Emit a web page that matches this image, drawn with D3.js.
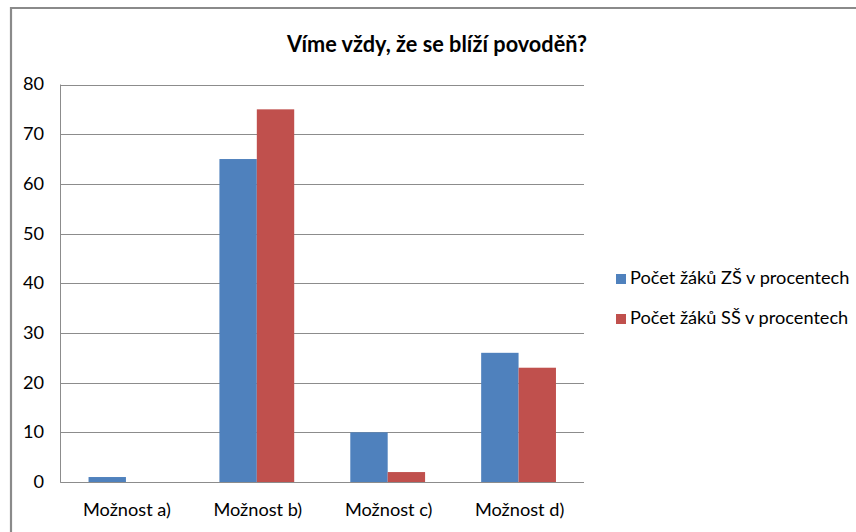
<!DOCTYPE html>
<html><head><meta charset="utf-8">
<script src="https://cdn.jsdelivr.net/npm/d3@7"></script>
<style>html,body{margin:0;padding:0;background:#fff;overflow:hidden}</style>
</head><body>
<svg id="chart" width="856" height="532"></svg>
<script>
const title = "Víme vždy, že se blíží povoděň?";
const categories = ["Možnost a)", "Možnost b)", "Možnost c)", "Možnost d)"];
const seriesNames = ["Počet žáků ZŠ v procentech", "Počet žáků SŠ v procentech"];
const seriesZS = [1, 65, 10, 26];
const seriesSS = [0, 75, 2, 23];
const yTicks = [0, 10, 20, 30, 40, 50, 60, 70, 80];
const colors = ["#4F81BD", "#C0504D"];

const series = [seriesZS, seriesSS];
const svg = d3.select("#chart");
const font = "Lato, 'Open Sans', sans-serif";

// frame
svg.append("path").attr("d", "M11,540 V8 H860").attr("fill", "none")
  .attr("stroke", "#8a8a8a").attr("stroke-width", 2.2);

const plot = {left: 60.5, right: 584, top: 84.5, bottom: 482};
const x = d3.scaleBand().domain(categories).range([plot.left, plot.right]).padding(0);
const gap = x.bandwidth() * 1.5 / 3.5;
const x1 = d3.scaleBand().domain(d3.range(series.length)).range([gap / 2, x.bandwidth() - gap / 2]).padding(0);
const y = d3.scaleLinear().domain([0, 80]).range([plot.bottom, plot.top]);

// gridlines
svg.append("g").selectAll("line").data(yTicks).join("line")
  .attr("x1", plot.left).attr("x2", plot.right)
  .attr("y1", d => Math.round(y(d)) + 0.5).attr("y2", d => Math.round(y(d)) + 0.5)
  .attr("stroke", "#8c8c8c").attr("stroke-width", 1);

// bars
series.forEach((vals, si) => {
  svg.append("g").selectAll("rect").data(vals).join("rect")
    .attr("x", (d, i) => x(categories[i]) + x1(si))
    .attr("width", x1.bandwidth())
    .attr("y", d => y(d))
    .attr("height", d => y(0) - y(d))
    .attr("fill", colors[si]);
});

// vertical axis line
svg.append("line").attr("x1", plot.left).attr("x2", plot.left)
  .attr("y1", y(80)).attr("y2", y(0) + 0.5).attr("stroke", "#8c8c8c");
svg.append("line").attr("x1", plot.left).attr("x2", plot.right)
  .attr("y1", Math.round(y(0)) + 0.5).attr("y2", Math.round(y(0)) + 0.5).attr("stroke", "#8c8c8c");

// helper to horizontally condense text (Calibri-like width)
function condense(sel, k, anchorX) {
  sel.attr("transform", function() {
    const ax = anchorX(this);
    return `translate(${ax},0) scale(${k},1) translate(${-ax},0)`;
  });
}

// y tick labels
const yl = svg.append("g").selectAll("text").data(yTicks).join("text")
  .attr("x", 44).attr("y", d => y(d) + 6)
  .attr("text-anchor", "end")
  .attr("font-family", font).attr("font-size", 17).attr("fill", "#000")
  .text(d => d);

// x labels
const xl = svg.append("g").selectAll("text").data(categories).join("text")
  .attr("x", d => x(d) + x.bandwidth() / 2 + 1).attr("y", 516)
  .attr("text-anchor", "middle")
  .attr("font-family", font).attr("font-size", 17).attr("fill", "#000")
  .text(d => d);

const k = 88 / xl.node().getComputedTextLength();
condense(yl, k, function(n) { return +n.getAttribute("x"); });
condense(xl, k, function(n) { return +n.getAttribute("x"); });

// title
const t = svg.append("text").attr("x", 437).attr("y", 52)
  .attr("text-anchor", "middle").attr("font-family", font)
  .attr("font-weight", "bold").attr("font-size", 23).attr("fill", "#000")
  .text(title);
const kt = 300 / t.node().getComputedTextLength();
condense(t, kt, () => 437);

// legend
const lg = svg.append("g").selectAll("g").data(seriesNames).join("g");
lg.append("rect").attr("x", 616).attr("y", (d, i) => 274 + i * 40)
  .attr("width", 10).attr("height", 10).attr("fill", (d, i) => colors[i]);
const lt = lg.append("text").attr("x", 630).attr("y", (d, i) => 284 + i * 40)
  .attr("font-family", font).attr("font-size", 17).attr("fill", "#000")
  .text(d => d);
condense(lt, k, () => 630);
</script>
</body></html>
